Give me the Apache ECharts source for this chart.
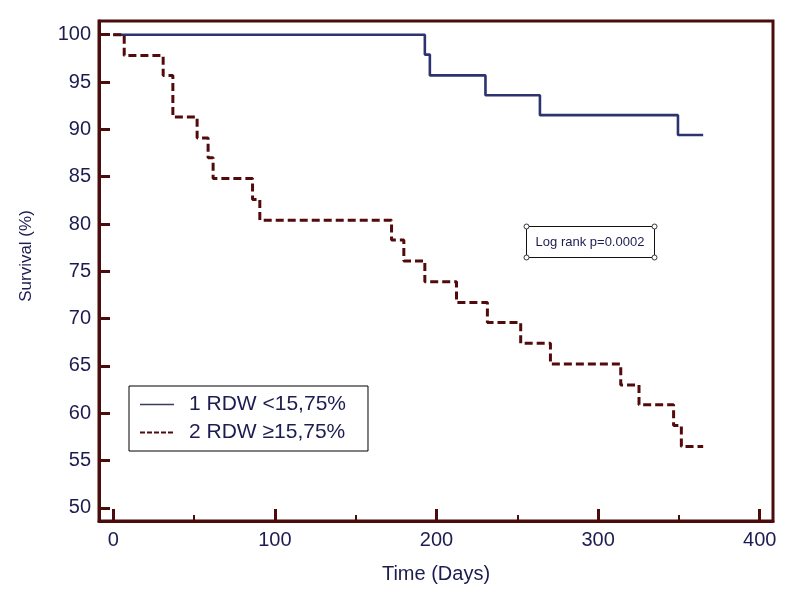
<!DOCTYPE html>
<html>
<head>
<meta charset="utf-8">
<script src="https://cdn.jsdelivr.net/npm/echarts@6/dist/echarts.min.js"></script>
<style>html,body{margin:0;padding:0;background:#fff}#c{width:800px;height:600px}</style>
</head>
<body>
<div id="c"></div>
<script>
// Data
var seriesNames = ['1 RDW <15,75%', '2 RDW \u226515,75%'];
var group1Days = [0, 192.8, 195.9, 230.3, 264, 349.4, 365];
var group1Surv = [100, 97.9, 95.7, 93.6, 91.5, 89.4, 89.4];
var group2Days = [0, 6.8, 30.9, 36.9, 51.9, 58.7, 61.8, 86.2, 90.7, 172.2, 179.8, 192.8, 212.4, 231.5, 252.1, 270.5, 314, 325.3, 346.7, 351.5, 365];
var group2Surv = [100, 97.8, 95.7, 91.3, 89.1, 87.0, 84.8, 82.6, 80.4, 78.3, 76.1, 73.9, 71.7, 69.6, 67.4, 65.2, 63.0, 60.9, 58.7, 56.5, 56.5];
var xMajorTicks = [0, 100, 200, 300, 400];
var xMinorTicks = [50, 150, 250, 350];
var yTicks = [50, 55, 60, 65, 70, 75, 80, 85, 90, 95, 100];
var xTitle = 'Time (Days)';
var yTitle = 'Survival (%)';
var annotation = 'Log rank p=0.0002';

function pairs(xs, ys) { return xs.map(function (x, i) { return [x, ys[i]]; }); }

var FRAME = '#4b0c0c';
var TEXT = '#1c1c52';
var C1 = '#2d3270';
var C2 = '#520a0a';
var FONT = '"Liberation Sans", Arial, sans-serif';

var chart = echarts.init(document.getElementById('c'), null, {renderer: 'canvas'});
var xMin = -8.8, xMax = 408.2;
chart.setOption({
  animation: false,
  backgroundColor: '#fff',
  textStyle: {fontFamily: FONT},
  grid: {left: 99, right: 27, top: 21, bottom: 79, show: true, borderColor: FRAME, borderWidth: 3, backgroundColor: 'transparent'},
  xAxis: [{
    type: 'value', min: xMin, max: xMax, position: 'bottom',
    name: xTitle, nameLocation: 'middle', nameGap: 43,
    nameTextStyle: {color: TEXT, fontSize: 20, fontFamily: FONT},
    axisLine: {show: true, onZero: false, lineStyle: {color: FRAME, width: 3}},
    axisTick: {show: true, inside: true, length: 12, customValues: xMajorTicks, lineStyle: {color: FRAME, width: 3}},
    axisLabel: {show: true, customValues: xMajorTicks, margin: 9, color: TEXT, fontSize: 20, fontFamily: FONT},
    splitLine: {show: false}
  }, {
    type: 'value', min: xMin, max: xMax, position: 'bottom', offset: 0,
    axisLine: {show: false, onZero: false},
    axisTick: {show: true, inside: true, length: 6, customValues: xMinorTicks, lineStyle: {color: FRAME, width: 2}},
    axisLabel: {show: false},
    splitLine: {show: false}
  }],
  yAxis: {
    type: 'value', min: 48.62, max: 101.45, position: 'left',
    axisLine: {show: true, onZero: false, lineStyle: {color: FRAME, width: 3}},
    axisTick: {show: true, inside: true, length: 11, customValues: yTicks, lineStyle: {color: FRAME, width: 3}},
    axisLabel: {show: true, customValues: yTicks, margin: 8, color: TEXT, fontSize: 20, fontFamily: FONT},
    splitLine: {show: false}
  },
  legend: {
    orient: 'vertical', left: 129, top: 386,
    padding: [8, 22, 8, 10], itemGap: 7, itemWidth: 34, itemHeight: 12,
    borderColor: '#000', borderWidth: 1, backgroundColor: '#fff',
    textStyle: {color: TEXT, fontSize: 21, fontFamily: FONT, padding: [0, 0, 0, 10]},
    data: [
      {name: seriesNames[0], itemStyle: {opacity: 0, borderWidth: 0}, lineStyle: {width: 1.5, color: '#3a3d60', opacity: 1}},
      {name: seriesNames[1], itemStyle: {opacity: 0, borderWidth: 0}, lineStyle: {width: 2, type: [5, 2], color: C2, opacity: 1}}
    ]
  },
  series: [{
    name: seriesNames[0], type: 'line', step: 'end', xAxisIndex: 0,
    symbol: 'none', data: pairs(group1Days, group1Surv),
    lineStyle: {color: C1, width: 2.6}, itemStyle: {color: C1}
  }, {
    name: seriesNames[1], type: 'line', step: 'end', xAxisIndex: 0,
    symbol: 'none', data: pairs(group2Days, group2Surv),
    lineStyle: {color: C2, width: 3, type: [8, 4]}, itemStyle: {color: C2}
  }],
  graphic: [
    {type: 'text', x: 26, y: 256, rotation: Math.PI / 2, style: {text: yTitle, fill: TEXT, fontSize: 17, fontFamily: FONT, align: 'center', verticalAlign: 'middle'}},
    {type: 'rect', shape: {x: 526.5, y: 226.5, width: 128, height: 31}, style: {fill: '#fff', stroke: '#111', lineWidth: 1}},
    {type: 'text', x: 590, y: 242, style: {text: annotation, fill: TEXT, fontSize: 13, fontFamily: FONT, align: 'center', verticalAlign: 'middle'}},
    {type: 'circle', shape: {cx: 526.5, cy: 226.5, r: 2.5}, style: {fill: '#fff', stroke: '#333', lineWidth: 1}},
    {type: 'circle', shape: {cx: 654.5, cy: 226.5, r: 2.5}, style: {fill: '#fff', stroke: '#333', lineWidth: 1}},
    {type: 'circle', shape: {cx: 526.5, cy: 257.5, r: 2.5}, style: {fill: '#fff', stroke: '#333', lineWidth: 1}},
    {type: 'circle', shape: {cx: 654.5, cy: 257.5, r: 2.5}, style: {fill: '#fff', stroke: '#333', lineWidth: 1}}
  ]
});
</script>
</body>
</html>
